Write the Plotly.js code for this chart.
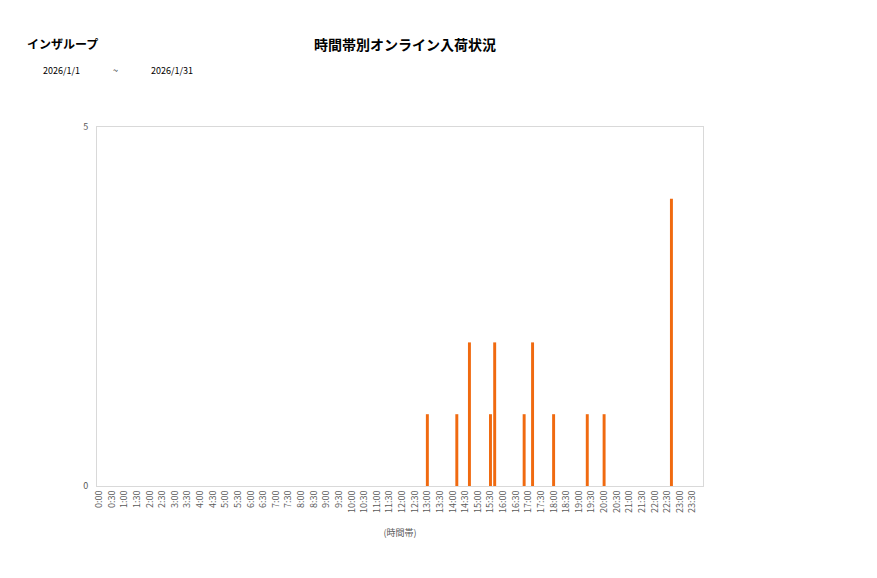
<!DOCTYPE html>
<html>
<head>
<meta charset="utf-8">
<script src="https://cdn.plot.ly/plotly-3.0.1.min.js"></script>
<style>
  body { margin: 0; background: #fff; }
  #chart { width: 877px; height: 578px; }
</style>
</head>
<body>
<div id="chart"></div>
<script>
// arrival times (10-minute slots) that had shipments, and counts
var times = ['13:00', '14:10', '14:40', '15:30', '15:40', '16:50', '17:10', '18:00', '19:20', '20:00', '22:40'];
var counts = [1, 1, 2, 1, 2, 1, 2, 1, 1, 1, 4];

// x tick labels every 30 minutes
var tickLabels = ['0:00', '0:30', '1:00', '1:30', '2:00', '2:30', '3:00', '3:30', '4:00', '4:30',
  '5:00', '5:30', '6:00', '6:30', '7:00', '7:30', '8:00', '8:30', '9:00', '9:30',
  '10:00', '10:30', '11:00', '11:30', '12:00', '12:30', '13:00', '13:30', '14:00', '14:30',
  '15:00', '15:30', '16:00', '16:30', '17:00', '17:30', '18:00', '18:30', '19:00', '19:30',
  '20:00', '20:30', '21:00', '21:30', '22:00', '22:30', '23:00', '23:30'];

var yTicks = [0, 5];

// convert "H:MM" to minutes since midnight
function toMin(t) {
  var p = t.split(':');
  return +p[0] * 60 + +p[1];
}

var trace = {
  type: 'bar',
  x: times.map(toMin),
  y: counts,
  width: 7,
  marker: { color: '#f06a10' },
  hoverinfo: 'skip'
};

var font = 'Meiryo, "Noto Sans CJK JP", sans-serif';

var layout = {
  width: 877,
  height: 578,
  margin: { l: 97, r: 174, t: 127, b: 92 },
  paper_bgcolor: '#fff',
  plot_bgcolor: '#fff',
  showlegend: false,
  font: { family: font, color: '#595959', size: 9 },
  xaxis: {
    range: [-5, 1435],
    tickmode: 'array',
    tickvals: tickLabels.map(toMin),
    ticktext: tickLabels,
    tickangle: -90,
    tickfont: { size: 9, color: '#595959' },
    ticks: '',
    showgrid: false,
    zeroline: false,
    showline: true,
    linecolor: '#d9d9d9',
    mirror: true,
    title: { text: '(時間帯)', font: { size: 9, color: '#595959' }, standoff: 17 }
  },
  yaxis: {
    range: [0, 5],
    tickmode: 'array',
    tickvals: yTicks,
    ticktext: yTicks.map(String),
    tickfont: { size: 9, color: '#595959' },
    ticks: '',
    showgrid: false,
    zeroline: false,
    showline: true,
    linecolor: '#d9d9d9',
    mirror: true,
    ticklabelstandoff: 6
  },
  annotations: [
    { text: '<b>インザループ</b>', xref: 'paper', yref: 'paper', x: -72 / 606, y: 1 + 83 / 359,
      xanchor: 'left', yanchor: 'middle', showarrow: false,
      font: { size: 12, color: '#000', family: font } },
    { text: '<b>時間帯別オンライン入荷状況</b>', xref: 'paper', yref: 'paper', x: 308 / 606, y: 1 + 83 / 359,
      xanchor: 'center', yanchor: 'middle', showarrow: false,
      font: { size: 14, color: '#000', family: font } },
    { text: '2026/1/1', xref: 'paper', yref: 'paper', x: -56 / 606, y: 1 + 56 / 359,
      xanchor: 'left', yanchor: 'middle', showarrow: false,
      font: { size: 9, color: '#000', family: font } },
    { text: '~', xref: 'paper', yref: 'paper', x: 18 / 606, y: 1 + 56 / 359,
      xanchor: 'center', yanchor: 'middle', showarrow: false,
      font: { size: 9, color: '#000', family: font } },
    { text: '2026/1/31', xref: 'paper', yref: 'paper', x: 52 / 606, y: 1 + 56 / 359,
      xanchor: 'left', yanchor: 'middle', showarrow: false,
      font: { size: 9, color: '#000', family: font } }
  ]
};

Plotly.newPlot('chart', [trace], layout, { displayModeBar: false, staticPlot: true });
</script>
</body>
</html>
